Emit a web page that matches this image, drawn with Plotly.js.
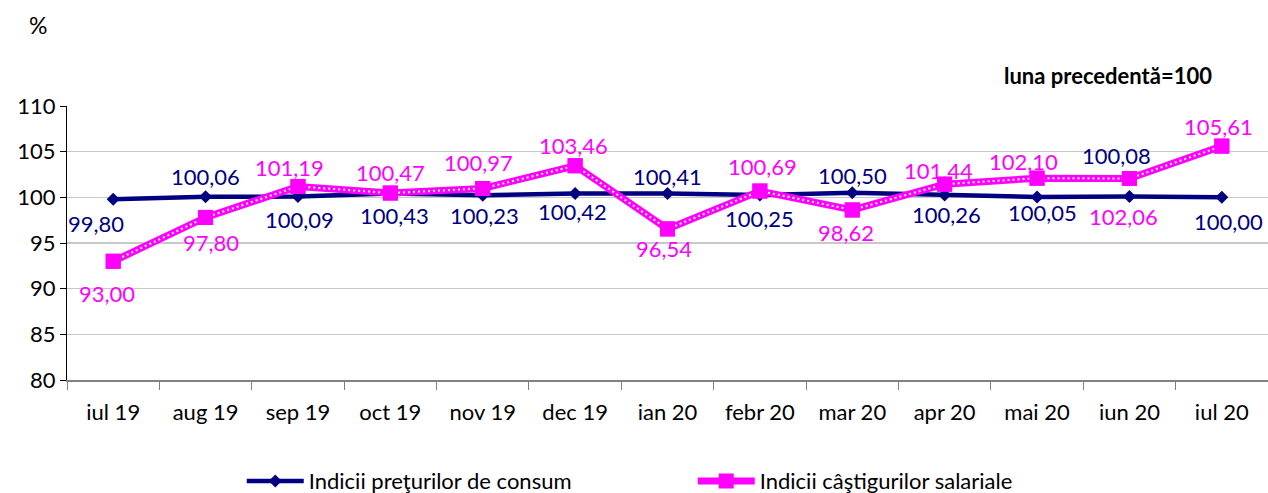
<!DOCTYPE html>
<html>
<head>
<meta charset="utf-8">
<script src="https://cdn.plot.ly/plotly-3.0.1.min.js"></script>
<style>
html,body{margin:0;padding:0;background:#fff;}
#chart{width:1268px;height:493px;}
</style>
</head>
<body>
<div id="chart"></div>
<script>
// ---- data ----
const months = ["iul 19","aug 19","sep 19","oct 19","nov 19","dec 19","ian 20","febr 20","mar 20","apr 20","mai 20","iun 20","iul 20"];
const cpi = [99.80,100.06,100.09,100.43,100.23,100.42,100.41,100.25,100.50,100.26,100.05,100.08,100.00];
const wages = [93.00,97.80,101.19,100.47,100.97,103.46,96.54,100.69,98.62,101.44,102.10,102.06,105.61];
const cpiName = "Indicii preţurilor de consum";
const wageName = "Indicii câştigurilor salariale";
const yTicks = [80,85,90,95,100,105,110];
const yGrid = [85,90,95,100,105];

// label nudges in screen pixels (dx right, dy down)
const cpiLabelDx = [-17,0,2,4,2,-3,0,0,0,2,5,-13,7];
const cpiLabelDy = [24,-20,23,22,20,18,-17,23,-17,20,16,-41,24];
const wageLabelDx = [-6,5,-8,0,-4,-2,-4,3,-6,-6,-14,-6,-3];
const wageLabelDy = [32,25,-19,-21,-26,-20,20,-25,23,-14,-17,38,-20];

const NAVY = "#000080";
const MAG = "#FF00FF";
const FONT = "Lato, 'Open Sans', sans-serif";
const fmt = v => v.toFixed(2).replace(".", ",");

const traces = [
  {x: months, y: cpi, name: cpiName, type: "scatter", mode: "lines+markers",
   line: {color: NAVY, width: 4.5}, marker: {symbol: "diamond", size: 10, color: NAVY}},
  {x: months, y: wages, name: wageName, type: "scatter", mode: "lines+markers",
   line: {color: MAG, width: 7}, marker: {symbol: "square", size: 15, color: MAG}},
  {x: months, y: wages, yaxis: "y2", type: "scatter", mode: "lines", showlegend: false, hoverinfo: "skip",
   line: {color: "#ffffff", width: 2, dash: "2px,3px"}},
  {x: months, y: wages, yaxis: "y2", type: "scatter", mode: "markers", showlegend: false,
   marker: {symbol: "square", size: 15, color: MAG}}
];

const annotations = [];
months.forEach((m, i) => {
  annotations.push({x: m, y: cpi[i], xref: "x", yref: "y", text: fmt(cpi[i]), showarrow: false,
    xshift: cpiLabelDx[i], yshift: -cpiLabelDy[i], font: {family: FONT, size: 22, color: NAVY}});
  annotations.push({x: m, y: wages[i], xref: "x", yref: "y", text: fmt(wages[i]), showarrow: false,
    xshift: wageLabelDx[i], yshift: -wageLabelDy[i], font: {family: FONT, size: 22, color: MAG}});
});
annotations.push({xref: "paper", yref: "paper", x: -0.024, y: 1.295, xanchor: "center", yanchor: "middle",
  text: "%", showarrow: false, font: {family: FONT, size: 23, color: "#000"}});
annotations.push({xref: "paper", yref: "paper", x: 0.955, y: 1.112, xanchor: "right", yanchor: "middle",
  text: "<b>luna precedentă=100</b>", showarrow: false, font: {family: FONT, size: 22, color: "#000"}});

const layout = {
  width: 1268, height: 493,
  margin: {l: 67, r: 0, t: 106, b: 113, autoexpand: false},
  paper_bgcolor: "#fff", plot_bgcolor: "#fff",
  font: {family: FONT, size: 22, color: "#000"},
  showlegend: true,
  legend: {orientation: "h", x: 0.1455, xanchor: "left", y: -0.369, yanchor: "middle",
    itemwidth: 57, font: {family: FONT, size: 22, color: "#000"}, traceorder: "normal",
    entrywidth: 379},
  xaxis: {type: "category", range: [-0.5, 12.5], showgrid: false, showline: true,
    linecolor: "#808080", linewidth: 2, ticks: "outside", ticklen: 8, tickcolor: "#808080",
    tickson: "boundaries", ticklabelstandoff: 12,
    tickfont: {family: FONT, size: 22, color: "#000"}, fixedrange: true},
  yaxis: {range: [80, 110], tickvals: yTicks, ticktext: yTicks.map(String), showgrid: false,
    showline: true, linecolor: "#000", linewidth: 1,
    ticks: "outside", ticklen: 6, tickcolor: "#000", zeroline: false,
    tickfont: {family: FONT, size: 22, color: "#000"}, fixedrange: true},
  yaxis2: {overlaying: "y", anchor: "x", side: "left", range: [80, 110], tickvals: yGrid,
    showticklabels: false, ticks: "", showline: false, showgrid: true,
    gridcolor: "#c8c8c8", gridwidth: 1.5, zeroline: false, fixedrange: true},
  annotations: annotations
};

Plotly.newPlot("chart", traces, layout, {displayModeBar: false, staticPlot: true});
</script>
</body>
</html>
